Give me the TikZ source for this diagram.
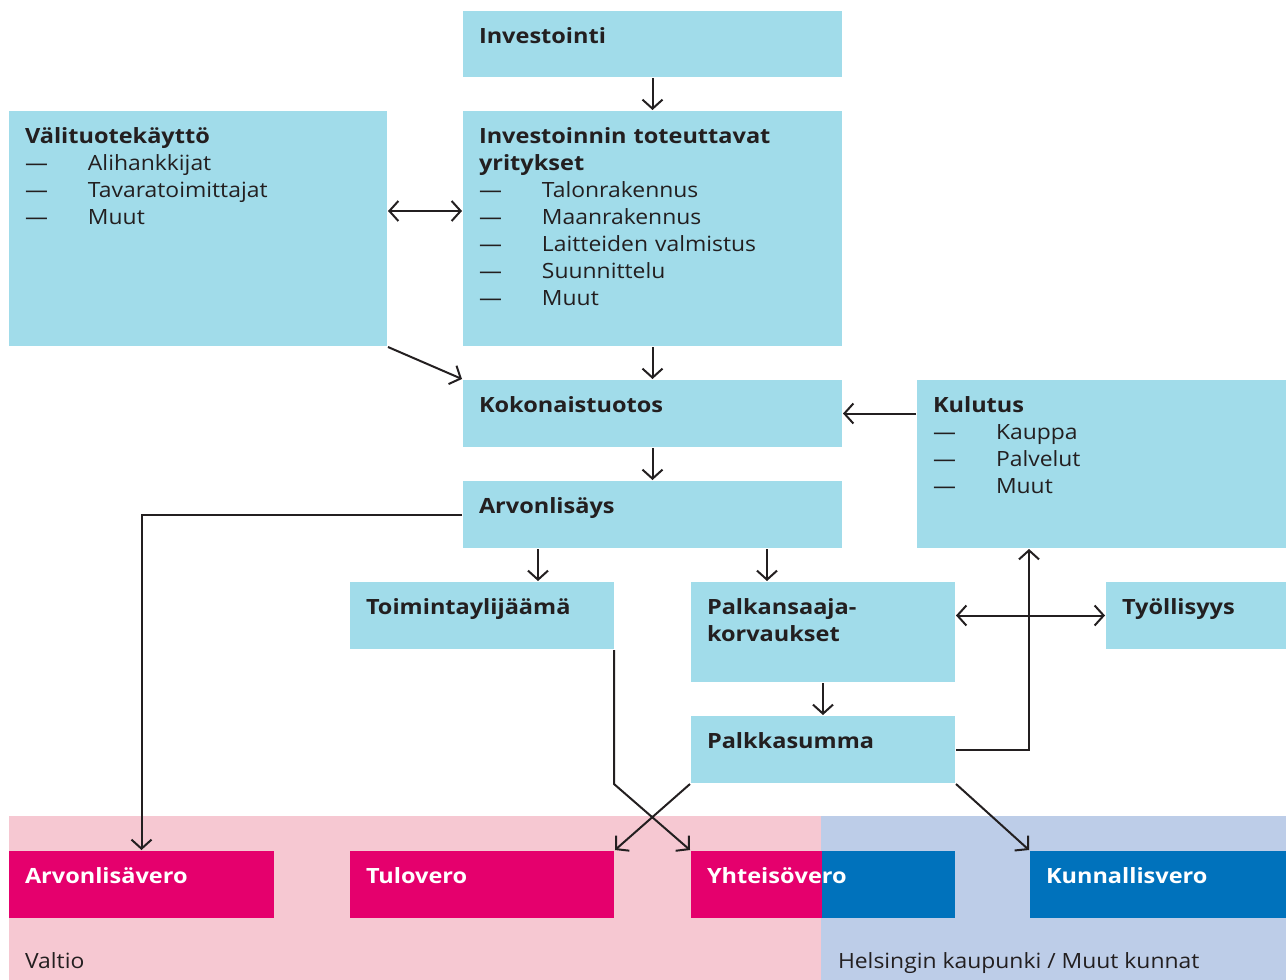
\documentclass[tikz,border=0pt]{standalone}
\usepackage{fontspec}
\setmainfont{Open Sans}[FakeStretch=1.09, BoldFeatures={FakeStretch=1.12}]
\usetikzlibrary{arrows.meta}

\definecolor{laatikkosin}{RGB}{161,220,234}
\definecolor{valtiopun}{RGB}{229,0,109}
\definecolor{kuntasin}{RGB}{0,114,188}
\definecolor{valtiotausta}{RGB}{246,200,210}
\definecolor{kuntatausta}{RGB}{189,205,232}
\definecolor{teksti}{RGB}{35,31,32}

\newcommand{\kohta}[1]{\\\makebox[63pt][l]{---}#1}

\begin{document}
\begin{tikzpicture}[x=1pt, y=-1pt, font=\fontsize{21}{27}\selectfont, color=teksti, line width=2pt,
	>={Straight Barb[length=9pt,width=20pt]},
	laatikko/.style 2 args={fill=laatikkosin, text=teksti, anchor=north west, inner xsep=16pt, inner ysep=0pt, align=left, text width=#1, text height=32pt, text depth=#2},
	vero/.style={laatikko={#1}{35pt}, fill=valtiopun, text=white, font=\fontsize{21}{27}\selectfont\bfseries}]
	\useasboundingbox (0,0) rectangle (1286,980);
	
	% taustat
	\fill[valtiotausta] (9,816) rectangle (821,980);
	\fill[kuntatausta] (821,816) rectangle (1286,980);
	\node[anchor=base west, inner sep=0pt] (valtio) at (24,968) {Valtio};
	\node[anchor=base west, inner sep=0pt] (kunnat) at (837,968) {Helsingin kaupunki / Muut kunnat};
	
	\node[laatikko={347pt}{34pt}] (inv) at (462,10) {\textbf{Investointi}};
	\node[laatikko={347pt}{203pt}] (yri) at (462,110) {\textbf{Investoinnin toteuttavat}\\\textbf{yritykset}\kohta{Talonrakennus}\kohta{Maanrakennus}\kohta{Laitteiden valmistus}\kohta{Suunnittelu}\kohta{Muut}};
	\node[laatikko={346pt}{203pt}] (vali) at (8,110) {\textbf{Välituotekäyttö}\kohta{Alihankkijat}\kohta{Tavaratoimittajat}\kohta{Muut}};
	\node[laatikko={347pt}{35pt}] (kok) at (462,379) {\textbf{Kokonaistuotos}};
	\node[laatikko={338pt}{136pt}] (kul) at (916,379) {\textbf{Kulutus}\kohta{Kauppa}\kohta{Palvelut}\kohta{Muut}};
	\node[laatikko={347pt}{35pt}] (arvo) at (462,480) {\textbf{Arvonlisäys}};
	\node[laatikko={232pt}{35pt}] (toim) at (349,581) {\textbf{Toimintaylijäämä}};
	\node[laatikko={232pt}{68pt}] (pk) at (690,581) {\textbf{Palkansaaja-}\\\textbf{korvaukset}};
	\node[laatikko={149pt}{35pt}] (tyo) at (1105,581) {\textbf{Työllisyys}};
	\node[laatikko={232pt}{35pt}] (ps) at (690,715) {\textbf{Palkkasumma}};
	
	% verot
	\node[vero={233pt}] (alv) at (8,850) {Arvonlisävero};
	\node[vero={232pt}] (tulo) at (349,850) {Tulovero};
	\node[vero={232pt}, path picture={\fill[kuntasin] ([xshift=131pt]path picture bounding box.north west) rectangle (path picture bounding box.south east);}] (yht) at (690,850) {Yhteisövero};
	\node[vero={225pt}, fill=kuntasin] (kunn) at (1029,850) {Kunnallisvero};
	
	\draw[->] (inv) -- (yri);
	\draw[<->] ([yshift=-101pt]vali.north east) -- ([yshift=-101pt]vali.north east -| yri.west);
	\draw[->] (vali.south east) -- (kok.north west);
	\draw[->] (yri) -- (kok);
	\draw[->] (kul.west |- kok.east) -- (kok.east);
	\draw[->] (kok) -- (arvo);
	\draw[->] (arvo.west) -| (alv.north);
	\draw[->] ([xshift=76pt]arvo.south west) -- ([xshift=76pt]arvo.south west |- toim.north);
	\draw[->] ([xshift=-76pt]arvo.south east) -- ([xshift=-76pt]arvo.south east |- pk.north);
	\draw[<->] (pk.east |- tyo.west) -- (tyo.west);
	\draw[->] (pk) -- (ps);
	\draw[->] (ps.east) -| ([xshift=113pt]kul.south west);
	\draw[->] ([xshift=-1pt]toim.south east) -- ([xshift=-1pt]toim.south east |- ps.south) -- (yht.north west);
	\draw[->] (ps.south west) -- (tulo.north east);
	\draw[->] (ps.south east) -- (kunn.north west);
\end{tikzpicture}
\end{document}
